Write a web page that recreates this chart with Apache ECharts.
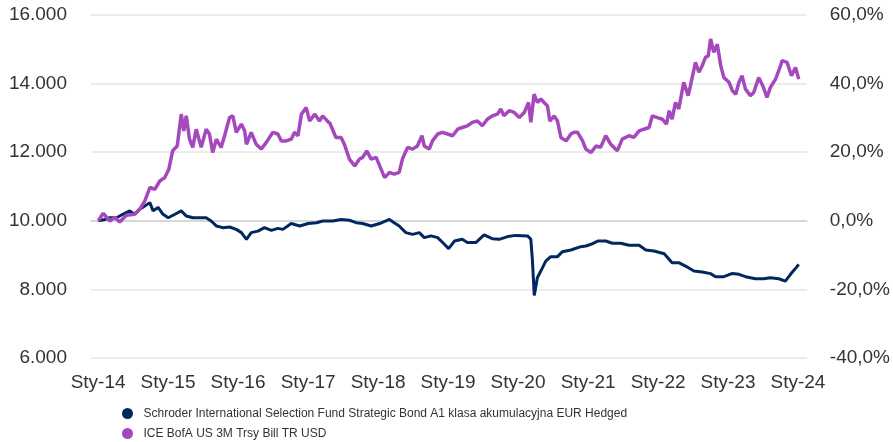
<!DOCTYPE html>
<html>
<head>
<meta charset="utf-8">
<script src="https://cdn.jsdelivr.net/npm/echarts@6/dist/echarts.min.js"></script>
<style>
html,body{margin:0;padding:0;background:#fff;}
#chart{width:893px;height:442px;}
</style>
</head>
<body>
<div id="chart"></div>
<script>
var seriesNames = [
  'Schroder International Selection Fund Strategic Bond A1 klasa akumulacyjna EUR Hedged',
  'ICE BofA US 3M Trsy Bill TR USD'
];
var leftTicks = [6000, 8000, 10000, 12000, 14000, 16000];
var rightTicks = [-40, -20, 0, 20, 40, 60];

var fundDates = ['2014-01-02','2014-02-06','2014-03-03','2014-04-07','2014-05-10','2014-06-15','2014-07-10','2014-08-06','2014-09-02','2014-09-28','2014-10-15','2014-11-10','2014-12-06',
'2015-01-02','2015-02-06','2015-03-11','2015-04-06','2015-05-10','2015-06-14','2015-07-19','2015-08-14','2015-09-10','2015-10-14','2015-11-18','2015-12-23',
'2016-01-19','2016-02-14','2016-03-10','2016-04-14','2016-05-18','2016-06-23','2016-07-27','2016-08-22','2016-10-05','2016-11-18',
'2017-01-01','2017-02-14','2017-03-18','2017-05-09','2017-06-22','2017-08-04','2017-09-09','2017-10-13','2017-11-26',
'2018-01-09','2018-03-01','2018-03-26','2018-04-21','2018-05-26','2018-06-30','2018-08-04','2018-08-30','2018-10-04','2018-11-08','2018-12-13',
'2019-01-04','2019-02-04','2019-03-16','2019-04-12','2019-05-26','2019-07-08','2019-08-20','2019-09-25','2019-11-08','2019-12-21',
'2020-02-20','2020-03-08','2020-03-16','2020-03-26','2020-04-11','2020-04-29','2020-05-25','2020-06-20','2020-07-25','2020-08-20','2020-10-03','2020-11-24','2020-12-20',
'2021-01-16','2021-02-20','2021-04-03','2021-05-07','2021-06-20','2021-08-02','2021-09-24','2021-10-29','2021-12-11',
'2022-02-02','2022-03-15','2022-04-19','2022-05-24','2022-07-07','2022-08-19','2022-10-02','2022-10-28','2022-12-10',
'2023-01-24','2023-02-27','2023-04-02','2023-05-24','2023-07-06','2023-08-10','2023-09-23','2023-10-27','2023-11-23','2023-12-15','2024-01-05'];
var fundValues = [10000,10040,10090,10090,10190,10290,10190,10340,10430,10530,10290,10390,10190,
10090,10190,10290,10140,10090,10090,10090,9995,9850,9800,9820,9750,
9655,9460,9655,9700,9800,9720,9780,9750,9920,9850,
9920,9945,9995,9995,10040,10015,9945,9920,9850,
9920,10040,9945,9850,9655,9605,9655,9510,9560,9510,9315,
9190,9410,9460,9365,9365,9590,9480,9460,9540,9575,
9560,9460,8875,7825,8340,8535,8825,8955,8955,9100,9150,9245,9265,
9315,9410,9410,9345,9345,9285,9285,9150,9120,
9040,8780,8780,8680,8535,8505,8460,8370,8370,
8465,8440,8370,8310,8310,8340,8310,8240,8440,8585,8730];

var indexDates = ['2014-01-02','2014-01-28','2014-03-03','2014-03-29','2014-04-24','2014-05-28','2014-07-10','2014-08-06','2014-09-02','2014-09-28','2014-10-24','2014-11-19','2014-12-15',
'2015-01-05','2015-01-25','2015-02-18','2015-03-11','2015-03-24','2015-04-06','2015-04-23','2015-05-10','2015-05-28','2015-06-23','2015-07-19','2015-08-05','2015-08-22','2015-09-10','2015-10-05','2015-10-23','2015-11-18','2015-12-05','2015-12-23',
'2016-01-19','2016-02-05','2016-02-14','2016-03-10','2016-04-05','2016-05-01','2016-05-27','2016-07-01','2016-07-27','2016-08-14','2016-09-09','2016-10-05','2016-10-22','2016-11-09','2016-11-27','2016-12-22',
'2017-01-09','2017-02-05','2017-03-01','2017-03-18','2017-04-13','2017-04-24','2017-05-26','2017-06-22','2017-07-09','2017-08-04','2017-09-01','2017-09-26','2017-10-13','2017-11-03','2017-11-26','2017-12-22',
'2018-01-17','2018-02-04','2018-03-01','2018-03-26','2018-04-21','2018-05-08','2018-06-04','2018-06-30','2018-07-25','2018-08-18','2018-08-30','2018-09-25','2018-10-12','2018-11-08','2018-12-03','2018-12-30',
'2019-01-25','2019-02-20','2019-03-16','2019-04-12','2019-05-08','2019-06-03','2019-06-29','2019-07-25','2019-08-20','2019-09-16','2019-10-03','2019-10-20','2019-11-16','2019-12-12',
'2020-01-08','2020-02-03','2020-02-25','2020-03-08','2020-03-25','2020-04-11','2020-04-29','2020-05-16','2020-06-03','2020-06-15','2020-07-08','2020-07-25','2020-08-12','2020-09-08','2020-10-03','2020-10-20','2020-11-07','2020-12-03','2020-12-20',
'2021-01-16','2021-02-11','2021-03-07','2021-04-03','2021-04-29','2021-06-02','2021-06-28','2021-08-02','2021-08-28','2021-09-24','2021-10-19','2021-11-15','2021-12-02','2021-12-28',
'2022-01-24','2022-02-14','2022-02-28','2022-03-15','2022-04-02','2022-04-19','2022-05-15','2022-06-07','2022-06-19','2022-07-15','2022-08-02','2022-08-19','2022-09-06','2022-09-20','2022-10-02','2022-10-19','2022-11-06','2022-11-24','2022-12-10',
'2023-01-06','2023-01-24','2023-02-10','2023-02-27','2023-03-15','2023-04-02','2023-04-28','2023-05-15','2023-06-10','2023-07-01','2023-07-23','2023-08-10','2023-09-06','2023-10-02','2023-10-10','2023-11-05','2023-11-28','2023-12-19','2024-01-05'];
var indexValues = [10000,10220,9995,10100,9965,10160,10190,10335,10580,10970,10920,11160,11260,
11500,12040,12180,13110,12620,13060,12380,12140,12670,12140,12670,12530,11990,12380,12140,12480,13010,13060,12580,
12820,12620,12230,12580,12230,12090,12280,12580,12530,12330,12330,12380,12580,12480,13110,13300,
12910,13110,12910,13060,12900,12850,12430,12430,12230,11800,11600,11800,11850,12040,11800,11850,
11500,11260,11410,11360,11410,11800,12140,12090,12180,12480,12180,12090,12330,12530,12580,12530,
12480,12670,12720,12770,12870,12910,12770,12960,13060,13110,13260,13060,13210,13160,
13010,13160,13450,12870,13690,13450,13550,13450,13350,12910,13060,12910,12430,12330,12530,12580,12580,12330,12090,
11990,12180,12140,12480,12230,12040,12380,12480,12430,12620,12670,12720,13060,13010,
12960,12820,13210,12960,13450,13260,14040,13650,13940,14620,14330,14520,14770,14810,15300,14910,15150,14520,14180,
14040,13790,13690,14040,14230,13840,13650,13740,14180,13940,13600,13890,14130,14520,14670,14620,14230,14470,14130];

function zip(d, v) { return d.map(function (x, i) { return [x, v[i]]; }); }

var chart = echarts.init(document.getElementById('chart'), null, {renderer: 'canvas'});
var labelFont = "'Liberation Sans', Arial, sans-serif";
chart.setOption({
  animation: false,
  useUTC: true,
  backgroundColor: '#ffffff',
  grid: {left: 91, right: 85, top: 15, bottom: 84, containLabel: false},
  legend: {
    orient: 'vertical',
    left: 122,
    top: 406,
    height: 60,
    padding: 0,
    icon: 'circle',
    itemWidth: 22,
    itemHeight: 11,
    itemGap: 5,
    textStyle: {fontSize: 12, lineHeight: 15, color: '#333', fontFamily: labelFont},
    data: seriesNames
  },
  xAxis: {
    type: 'time',
    min: '2013-11-25',
    max: '2024-02-16',
    splitNumber: 10,
    minInterval: 365 * 86400000,
    axisLine: {show: true, lineStyle: {color: '#cfcfcf', width: 1.5}},
    axisTick: {show: false},
    splitLine: {show: false},
    axisLabel: {
      fontSize: 19, color: '#333', fontFamily: labelFont, margin: 15,
      formatter: function (val) { var d = new Date(val); return 'Sty-' + String(d.getUTCFullYear()).slice(2); }
    }
  },
  yAxis: [{
    type: 'value',
    min: leftTicks[0], max: leftTicks[leftTicks.length - 1], interval: 2000,
    axisLine: {show: false}, axisTick: {show: false},
    splitLine: {lineStyle: {color: '#e6e6e6', width: 1.5}},
    axisLabel: {
      fontSize: 19, color: '#333', fontFamily: labelFont, margin: 24,
      formatter: function (v) { return String(v).replace(/\B(?=(\d{3})+(?!\d))/g, '.'); }
    }
  }, {
    type: 'value',
    position: 'right',
    min: rightTicks[0], max: rightTicks[rightTicks.length - 1], interval: 20,
    axisLine: {show: false}, axisTick: {show: false},
    splitLine: {show: false},
    axisLabel: {
      fontSize: 19, color: '#333', fontFamily: labelFont, margin: 23,
      formatter: function (v) { return v.toFixed(1).replace('.', ',') + '%'; }
    }
  }],
  series: [{
    name: seriesNames[0],
    type: 'line',
    yAxisIndex: 0,
    showSymbol: false,
    symbol: 'none',
    lineStyle: {color: '#00285f', width: 3},
    itemStyle: {color: '#00285f'},
    data: zip(fundDates, fundValues)
  }, {
    name: seriesNames[1],
    type: 'line',
    yAxisIndex: 0,
    showSymbol: false,
    symbol: 'none',
    lineStyle: {color: '#a548be', width: 3.5},
    itemStyle: {color: '#a548be'},
    data: zip(indexDates, indexValues)
  }]
});
</script>
</body>
</html>
